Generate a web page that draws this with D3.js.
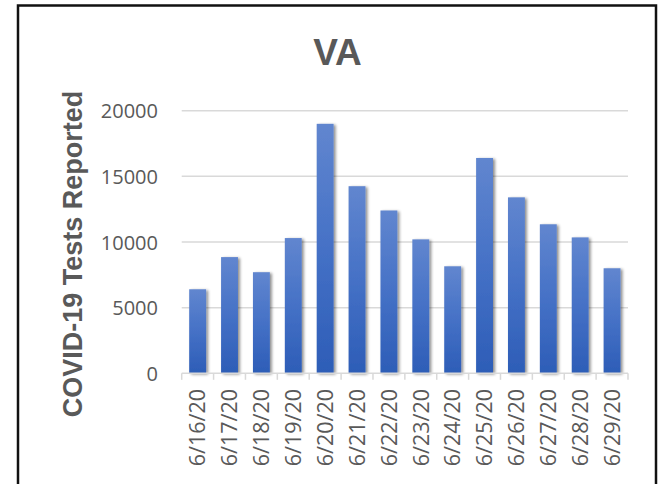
<!DOCTYPE html>
<html>
<head>
<meta charset="utf-8">
<script src="https://cdnjs.cloudflare.com/ajax/libs/d3/7.8.5/d3.min.js"></script>
<style>
  body { margin: 0; background: #fff; }
  .chart text { fill: #595959; }
</style>
</head>
<body>
<div class="chart"></div>
<script>
var svgWidth = 660;
var svgHeight = 484;

// chart data
var chartTitle = "VA";
var yTitle = "COVID-19 Tests Reported";
var dates = ["6/16/20", "6/17/20", "6/18/20", "6/19/20", "6/20/20", "6/21/20", "6/22/20",
             "6/23/20", "6/24/20", "6/25/20", "6/26/20", "6/27/20", "6/28/20", "6/29/20"];
var tests = [6400, 8850, 7700, 10300, 19000, 14250, 12400,
             10200, 8150, 16400, 13400, 11350, 10350, 8000];
var yTicks = [0, 5000, 10000, 15000, 20000];

// plot area inside the svg
var plot = { left: 181.7, right: 628, top: 110.7, bottom: 373.3 };

var svg = d3.select(".chart")
  .append("svg")
  .attr("width", svgWidth)
  .attr("height", svgHeight);

var defs = svg.append("defs");

// bar gradient, lighter at the top
var grad = defs.append("linearGradient")
  .attr("id", "barGrad")
  .attr("x1", 0).attr("y1", 0)
  .attr("x2", 0).attr("y2", 1);
grad.append("stop").attr("offset", "0%").attr("stop-color", "#6186cf");
grad.append("stop").attr("offset", "50%").attr("stop-color", "#4571c6");
grad.append("stop").attr("offset", "100%").attr("stop-color", "#2d5db7");

// soft shadow around the bars
var shadow = defs.append("filter")
  .attr("id", "barShadow")
  .attr("x", "-50%").attr("y", "-10%")
  .attr("width", "200%").attr("height", "120%");
shadow.append("feGaussianBlur").attr("in", "SourceAlpha").attr("stdDeviation", 1.6).attr("result", "blur");
shadow.append("feOffset").attr("in", "blur").attr("dx", 1.5).attr("dy", 1).attr("result", "off");
shadow.append("feComponentTransfer").attr("in", "off").attr("result", "soft")
  .append("feFuncA").attr("type", "linear").attr("slope", 0.45);
var merge = shadow.append("feMerge");
merge.append("feMergeNode").attr("in", "soft");
merge.append("feMergeNode").attr("in", "SourceGraphic");

// frame around the chart (runs off the bottom)
svg.append("rect")
  .attr("x", 18)
  .attr("y", 5.5)
  .attr("width", 638)
  .attr("height", 500)
  .attr("fill", "#fff")
  .attr("stroke", "#111")
  .attr("stroke-width", 2.5);

// scales
var xBandScale = d3.scaleBand()
  .domain(dates)
  .range([plot.left, plot.right])
  .paddingInner(0.47)
  .paddingOuter(0.235);

var yLinearScale = d3.scaleLinear()
  .domain([0, 20000])
  .range([plot.bottom, plot.top]);

// gridlines
svg.append("g")
  .attr("class", "grid")
  .selectAll("line")
  .data(yTicks.filter(function(d) { return d > 0; }))
  .enter()
  .append("line")
  .attr("x1", plot.left)
  .attr("x2", plot.right)
  .attr("y1", function(d) { return yLinearScale(d); })
  .attr("y2", function(d) { return yLinearScale(d); })
  .attr("stroke", "#d9d9d9")
  .attr("stroke-width", 1.5);

// y axis labels, no thousands separator
var leftAxis = d3.axisLeft(yLinearScale)
  .tickValues(yTicks)
  .tickFormat(d3.format("d"))
  .tickSize(0)
  .tickPadding(0);

var yAxis = svg.append("g")
  .attr("transform", "translate(158,0)")
  .call(leftAxis);
yAxis.select(".domain").remove();
yAxis.selectAll("text")
  .attr("font-family", "'Open Sans', sans-serif")
  .attr("font-size", 20)
  .attr("dy", "0.36em");

// bars
svg.append("g")
  .selectAll("rect")
  .data(tests)
  .enter()
  .append("rect")
  .attr("x", function(d, i) { return xBandScale(dates[i]); })
  .attr("y", function(d) { return yLinearScale(d); })
  .attr("width", xBandScale.bandwidth())
  .attr("height", function(d) { return plot.bottom - yLinearScale(d); })
  .attr("fill", "url(#barGrad)")
  .attr("filter", "url(#barShadow)");

// x axis line with ticks between categories
var step = xBandScale.step();
var tickPos = d3.range(dates.length + 1).map(function(i) { return plot.left + i * step; });

var xAxis = svg.append("g").attr("class", "x-axis");
xAxis.append("line")
  .attr("x1", plot.left)
  .attr("x2", plot.right)
  .attr("y1", plot.bottom)
  .attr("y2", plot.bottom)
  .attr("stroke", "#d9d9d9")
  .attr("stroke-width", 1.5);
xAxis.selectAll(".tick")
  .data(tickPos)
  .enter()
  .append("line")
  .attr("x1", function(d) { return d; })
  .attr("x2", function(d) { return d; })
  .attr("y1", plot.bottom)
  .attr("y2", plot.bottom + 6.5)
  .attr("stroke", "#d9d9d9")
  .attr("stroke-width", 1.5);

// rotated date labels
xAxis.selectAll(".x-label")
  .data(dates)
  .enter()
  .append("text")
  .attr("class", "x-label")
  .attr("transform", function(d) {
    return "translate(" + (xBandScale(d) + xBandScale.bandwidth() / 2) + "," + 389 + ") rotate(-90)";
  })
  .attr("text-anchor", "end")
  .attr("dy", "0.36em")
  .attr("font-family", "'Open Sans', sans-serif")
  .attr("font-size", 21.5)
  .text(function(d) { return d; });

// title
svg.append("text")
  .attr("x", 337.5)
  .attr("y", 65)
  .attr("text-anchor", "middle")
  .attr("font-family", "'Liberation Sans', Arial, sans-serif")
  .attr("font-weight", "bold")
  .attr("font-size", 37)
  .text(chartTitle);

// y axis title
svg.append("text")
  .attr("transform", "translate(82," + 254 + ") rotate(-90)")
  .attr("text-anchor", "middle")
  .attr("font-family", "'Liberation Sans', Arial, sans-serif")
  .attr("font-weight", "bold")
  .attr("font-size", 27)
  .text(yTitle);
</script>
</body>
</html>
